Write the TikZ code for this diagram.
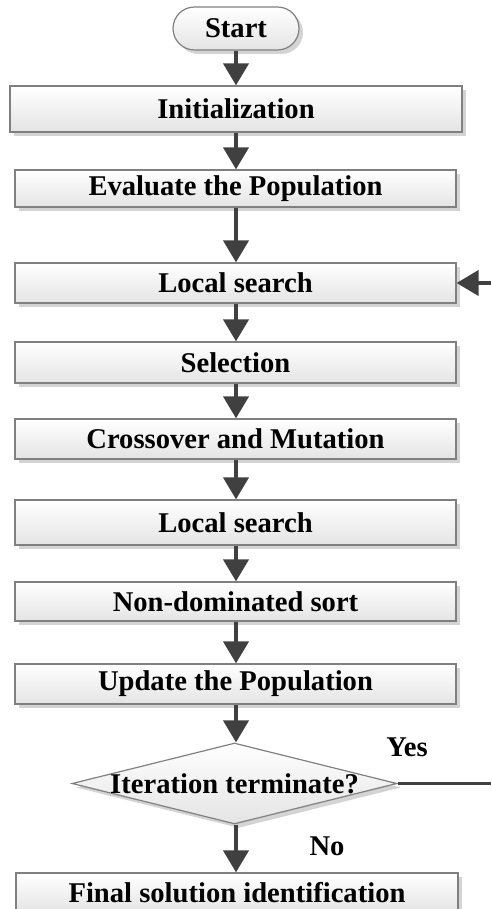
\documentclass[tikz,border=0pt]{standalone}
\usepackage{fontspec}
\setmainfont{Liberation Serif}
\usetikzlibrary{arrows.meta,shapes.geometric,shapes.misc,shadows}
\definecolor{arrowc}{HTML}{404040}
\definecolor{borderc}{HTML}{808080}
\definecolor{shadowc}{HTML}{D4D4D4}
\definecolor{fillbot}{HTML}{E4E4E4}
\begin{document}
\begin{tikzpicture}[x=1pt,y=-1pt,
  txt/.style={font=\fontsize{28.6}{34}\selectfont\bfseries, text=black},
  base/.style={txt, draw=borderc, line width=1.2pt, top color=white, bottom color=fillbot,
    drop shadow={shadow xshift=4pt, shadow yshift=-4pt, fill=shadowc, opacity=1}, inner sep=0pt},
  procbox/.style={base, rectangle, minimum width=441pt},
  startbox/.style={base, rounded rectangle, minimum width=126pt, minimum height=43pt},
  decbox/.style={base, diamond, minimum width=325pt, minimum height=81pt},
  arr/.style={draw=arrowc, line width=4pt, -{Triangle[width=25pt,length=22pt]}},
  plain/.style={draw=arrowc, line width=2.5pt},
  lbl/.style={txt}
]
\useasboundingbox (0,0) rectangle (491,909);
\begin{scope}
\clip (0,0) rectangle (491,909);
\node[startbox] (start) at (236,28.5) {Start};
\node[procbox, minimum width=452pt, minimum height=46pt] (init) at (236,109) {Initialization};
\node[procbox, minimum height=37pt] (eval) at (235.5,188.5) {Evaluate the Population};
\node[procbox, minimum height=40pt] (ls1) at (235.5,283) {Local search};
\node[procbox, minimum height=41pt] (sel) at (235.5,362.5) {Selection};
\node[procbox, minimum height=40pt] (cross) at (235.5,439) {Crossover and Mutation};
\node[procbox, minimum height=45pt] (ls2) at (235.5,522.5) {Local search};
\node[procbox, minimum height=39pt] (nds) at (235.5,601.5) {Non-dominated sort};
\node[procbox, minimum height=40pt] (upd) at (235.5,684) {Update the Population};
\node[decbox] (dia) at (234.5,783.5) {\makebox[0pt]{Iteration terminate?}};
\node[procbox, minimum width=442pt, minimum height=40pt] (fin) at (237,893) {Final solution identification};
\end{scope}
\coordinate (loopin) at (491,283);
\coordinate (yesend) at (491,783.5);
\draw[arr] (start.south) -- (init.north -| start.south);
\draw[arr] (init.south -| start.south) -- (eval.north -| start.south);
\draw[arr] (eval.south -| start.south) -- (ls1.north -| start.south);
\draw[arr] (ls1.south -| start.south) -- (sel.north -| start.south);
\draw[arr] (sel.south -| start.south) -- (cross.north -| start.south);
\draw[arr] (cross.south -| start.south) -- (ls2.north -| start.south);
\draw[arr] (ls2.south -| start.south) -- (nds.north -| start.south);
\draw[arr] (nds.south -| start.south) -- (upd.north -| start.south);
\draw[arr] (upd.south -| start.south) -- (dia.north -| start.south);
\draw[arr] (dia.south -| start.south) -- (fin.north -| start.south);
\draw[arr] (loopin) -- (ls1.east);
\draw[plain] (dia.east) -- (yesend);
\node[lbl] (yes) at (407,747) {Yes};
\node[lbl] (no) at (327,846) {No};
\end{tikzpicture}
\end{document}
